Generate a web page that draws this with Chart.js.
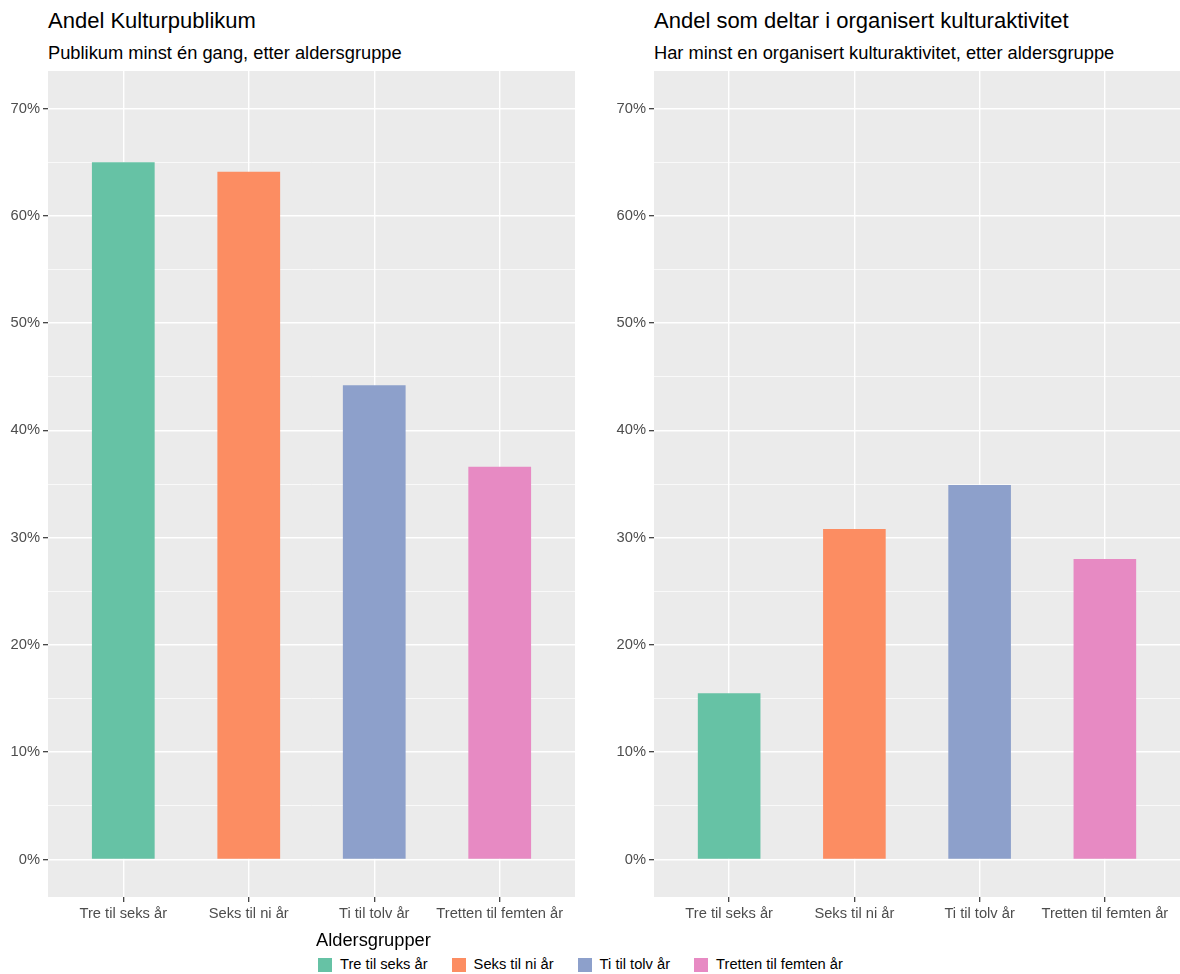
<!DOCTYPE html>
<html>
<head>
<meta charset="utf-8">
<script src="https://cdn.jsdelivr.net/npm/chart.js@4/dist/chart.umd.min.js"></script>
<style>
  body { margin: 0; background: #fff; font-family: 'Liberation Sans', Arial, sans-serif; }
  #wrap { position: relative; width: 1180px; height: 974px; overflow: hidden; }
  canvas { position: absolute; }
  .title { position: absolute; font-size: 22px; line-height: 22px; color: #000; white-space: nowrap; }
  .subtitle { position: absolute; font-size: 18.3px; line-height: 18.3px; color: #000; white-space: nowrap; }
  #legend-title { position: absolute; left: 316px; top: 931px; font-size: 18.3px; line-height: 18.3px; color: #000; }
  #legend { position: absolute; left: 318px; top: 957px; display: flex; font-size: 14.7px; line-height: 15px; color: #000; }
  .item { display: flex; align-items: center; margin-right: 24px; }
  .key { width: 14px; height: 14px; margin-right: 8px; }
</style>
</head>
<body>
<div id="wrap">
  <div class="title" style="left:48px; top:10px;">Andel Kulturpublikum</div>
  <div class="subtitle" style="left:48px; top:44px;">Publikum minst én gang, etter aldersgruppe</div>
  <div class="title" style="left:654px; top:10px;">Andel som deltar i organisert kulturaktivitet</div>
  <div class="subtitle" style="left:654px; top:44px;">Har minst en organisert kulturaktivitet, etter aldersgruppe</div>

  <canvas id="chartPublikum" width="590" height="859" style="left:0; top:71px;"></canvas>
  <canvas id="chartOrganisert" width="574" height="859" style="left:606px; top:71px;"></canvas>

  <div id="legend-title">Aldersgrupper</div>
  <div id="legend"></div>
</div>

<script>
const categories = ['Tre til seks år', 'Seks til ni år', 'Ti til tolv år', 'Tretten til femten år'];
const publikumValues = [65.0, 64.1, 44.2, 36.6];
const organisertValues = [15.5, 30.8, 34.9, 28.0];
const yTicks = [0, 10, 20, 30, 40, 50, 60, 70];
const yMinorTicks = [5, 15, 25, 35, 45, 55, 65];
const colors = ['#66C2A5', '#FC8D62', '#8DA0CB', '#E78AC3'];

Chart.defaults.font.family = "'Liberation Sans', Arial, sans-serif";
Chart.defaults.animation = false;

// grey panel behind the grid, like ggplot's theme_gray
const panelBackground = {
    id: 'panelBackground',
    beforeDraw(chart) {
        const a = chart.chartArea;
        const ctx = chart.ctx;
        ctx.save();
        ctx.fillStyle = '#EBEBEB';
        ctx.fillRect(a.left, a.top, a.right - a.left, a.bottom - a.top);
        ctx.restore();
    }
};

const isMajor = v => yTicks.includes(v);

function makeChart(id, values, padRight) {
    const ctx = document.getElementById(id).getContext('2d');
    return new Chart(ctx, {
        type: 'bar',
        data: {
            datasets: [{
                data: categories.map((c, i) => ({ x: i + 1, y: values[i] })),
                backgroundColor: colors,
                borderWidth: 0,
                categoryPercentage: 1,
                barPercentage: 0.5
            }]
        },
        options: {
            responsive: false,
            devicePixelRatio: 1,
            layout: { padding: { top: 0, right: padRight, bottom: 0, left: 0 } },
            plugins: { legend: { display: false }, tooltip: { enabled: false } },
            scales: {
                x: {
                    type: 'linear',
                    offset: false,
                    min: 0.4,
                    max: 4.6,
                    afterBuildTicks: axis => { axis.ticks = categories.map((c, i) => ({ value: i + 1 })); },
                    afterFit: scale => {
                        scale.height = 33;
                        scale.paddingLeft = 0;
                        scale.paddingRight = 0;
                    },
                    border: { display: false },
                    grid: { offset: false, color: '#FFFFFF', lineWidth: 1.4, tickColor: '#333333', tickLength: 5, tickWidth: 1.2 },
                    ticks: {
                        color: '#4D4D4D',
                        font: { size: 14.7 },
                        padding: 3,
                        maxRotation: 0,
                        autoSkip: false,
                        callback: v => categories[v - 1]
                    }
                },
                y: {
                    min: -3.5,
                    max: 73.5,
                    afterBuildTicks: axis => {
                        axis.ticks = yTicks.concat(yMinorTicks).sort((a, b) => a - b).map(v => ({ value: v }));
                    },
                    afterFit: scale => {
                        scale.width = 48;
                        scale.paddingTop = 0;
                        scale.paddingBottom = 0;
                    },
                    border: { display: false },
                    grid: {
                        color: '#FFFFFF',
                        lineWidth: c => isMajor(c.tick.value) ? 1.4 : 0.7,
                        tickColor: c => isMajor(c.tick.value) ? '#333333' : 'rgba(0,0,0,0)',
                        tickLength: 5,
                        tickWidth: 1.2
                    },
                    ticks: {
                        color: '#4D4D4D',
                        font: { size: 14.7 },
                        padding: 3,
                        autoSkip: false,
                        callback: v => isMajor(v) ? v + '%' : ''
                    }
                }
            }
        },
        plugins: [panelBackground]
    });
}

makeChart('chartPublikum', publikumValues, 15);
makeChart('chartOrganisert', organisertValues, 0);

const legend = document.getElementById('legend');
categories.forEach((c, i) => {
    const item = document.createElement('div');
    item.className = 'item';
    item.innerHTML = '<span class="key" style="background:' + colors[i] + '"></span><span>' + c + '</span>';
    legend.appendChild(item);
});
</script>
</body>
</html>
